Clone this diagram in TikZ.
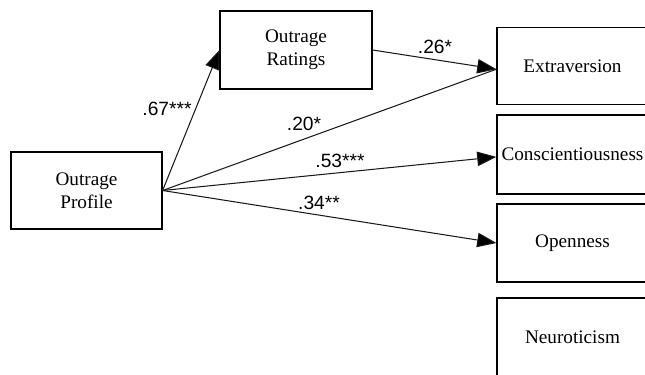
\documentclass[tikz,border=0pt]{standalone}
\usepackage{fontspec}
\setmainfont{Liberation Serif}
\newfontfamily\labelfont{Liberation Sans}
\usetikzlibrary{arrows.meta}
\begin{document}
\begin{tikzpicture}[x=0.625pt,y=-0.625pt,
  box/.style={draw=black,line width=0.7pt,inner sep=0pt,align=center,font=\fontsize{12}{14.5}\selectfont},
  path/.style={draw=black!90,line width=0.65pt},
  arr/.style={path,-{Triangle[length=12pt,width=9pt,fill=black]}},
  coef/.style={font=\labelfont\fontsize{12}{14}\selectfont,inner sep=0pt}]
\useasboundingbox (0,0) rectangle (645,375);
\clip (0,0) rectangle (645,375);
\node[box,minimum width=94.4pt,minimum height=48.1pt] (prof) at (86.5,190.5) {Outrage\\Profile};
\node[box,minimum width=95pt,minimum height=48.75pt] (rat) at (296,50) {Outrage\\Ratings};
\node[box,minimum width=94.4pt,minimum height=48.1pt] (ext) at (572.5,66) {Extraversion};
\node[box,minimum width=94.4pt,minimum height=49.4pt] (con) at (572.5,154.5) {Conscientiousness};
\node[box,minimum width=94.4pt,minimum height=48.8pt] (ope) at (572.5,243) {Openness};
\node[box,minimum width=94.4pt,minimum height=49.4pt] (neu) at (572.5,337.5) {Neuroticism};
\draw[arr] (prof.east) -- (rat.west);
\draw[arr] (rat.east) -- ([yshift=-2pt]ext.west);
\draw[path] (prof.east) -- ([yshift=-2pt]ext.west);
\draw[arr] (prof.east) -- ([yshift=-1.5pt]con.west);
\draw[arr] (prof.east) -- (ope.west);
\node[coef] (l67) at (167,109) {.67***};
\node[coef] (l26) at (435,47) {.26*};
\node[coef] (l20) at (304,124) {.20*};
\node[coef] (l53) at (340,161) {.53***};
\node[coef] (l34) at (319,203) {.34**};
\end{tikzpicture}
\end{document}
